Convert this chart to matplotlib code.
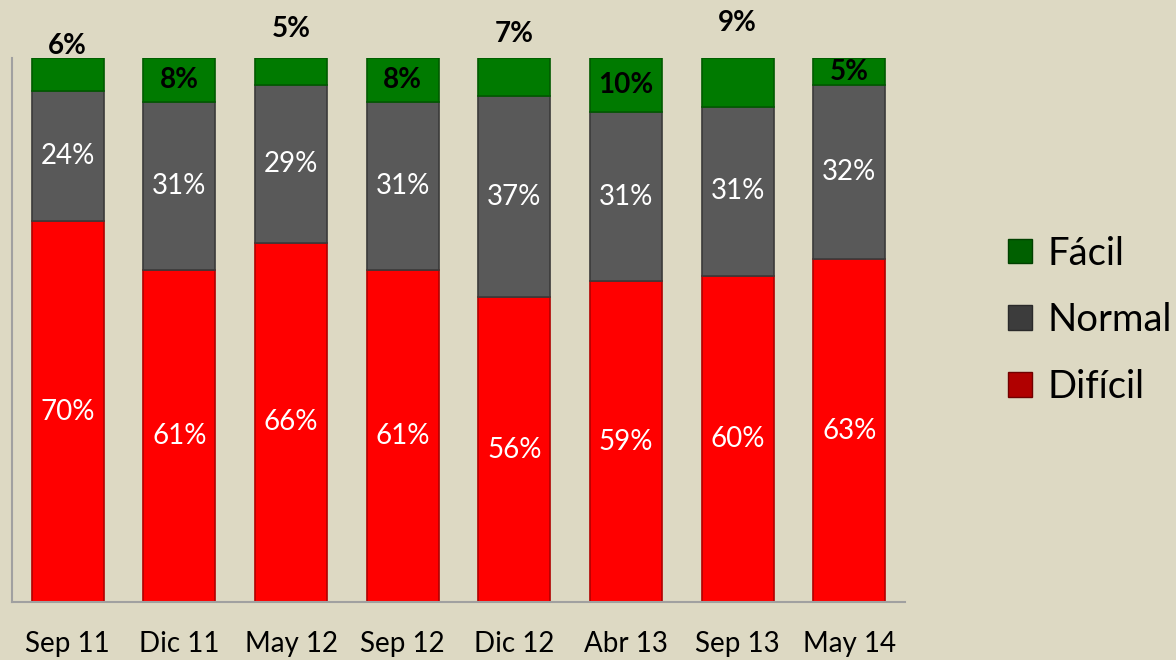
import matplotlib.pyplot as plt
from matplotlib.patches import Patch

plt.rcParams['font.family'] = ['Lato', 'DejaVu Sans']

periods = ['Sep 11', 'Dic 11', 'May 12', 'Sep 12', 'Dic 12', 'Abr 13', 'Sep 13', 'May 14']
dificil = [70, 61, 66, 61, 56, 59, 60, 63]
normal = [24, 31, 29, 31, 37, 31, 31, 32]
facil = [6, 8, 5, 8, 7, 10, 9, 5]

# where the Fácil label sits: inside the bar or above it (extra offset in points)
facil_outside = {0: 9, 2: 21, 4: 17, 6: 25}

bg = '#DDD9C3'
c_red = '#FF0000'
c_gray = '#595959'
c_green = '#007A00'

fig = plt.figure(figsize=(11.76, 6.6), dpi=100, facecolor=bg)
ax = fig.add_axes([0.0102, 0.0879, 0.7594, 0.8242], facecolor=bg)

x = range(len(periods))
w = 0.645
base_n = dificil
base_f = [d + n for d, n in zip(dificil, normal)]

ax.bar(x, dificil, w, color=c_red, edgecolor='#B00000', linewidth=1.2)
ax.bar(x, normal, w, bottom=base_n, color=c_gray, edgecolor='#3A3A3A', linewidth=1.2)
ax.bar(x, facil, w, bottom=base_f, color=c_green, edgecolor='#005A00', linewidth=1.2)

for i in x:
    ax.text(i, dificil[i] / 2, f'{dificil[i]}%', ha='center', va='center',
            color='white', fontsize=20)
    ax.text(i, base_n[i] + normal[i] / 2, f'{normal[i]}%', ha='center', va='center',
            color='white', fontsize=20)
    if i in facil_outside:
        ax.annotate(f'{facil[i]}%', (i, 100), xytext=(0, facil_outside[i]),
                    textcoords='offset points', ha='center', va='center',
                    fontsize=20, fontweight='bold', color='black')
    else:
        ax.text(i, base_f[i] + facil[i] / 2, f'{facil[i]}%', ha='center', va='center',
                fontsize=20, fontweight='bold', color='black')

ax.set_xlim(-0.5, len(periods) - 0.5)
ax.set_ylim(0, 100)
ax.set_xticks(list(x))
ax.set_xticklabels(periods, fontsize=20)
ax.set_yticks([])
ax.tick_params(axis='x', length=0, pad=21)
for s in ['top', 'right']:
    ax.spines[s].set_visible(False)
for s in ['left', 'bottom']:
    ax.spines[s].set_color('#A0A0A0')
    ax.spines[s].set_linewidth(1.5)

handles = [Patch(facecolor='#006000', edgecolor='#004000', label='Fácil'),
           Patch(facecolor='#3C3C3C', edgecolor='#2A2A2A', label='Normal'),
           Patch(facecolor='#B00000', edgecolor='#700000', label='Difícil')]
fig.legend(handles=handles, loc='center left', bbox_to_anchor=(0.857, 0.515),
           frameon=False, fontsize=27.5, handlelength=0.62, handleheight=0.62,
           handletextpad=0.42, labelspacing=0.8, borderpad=0, borderaxespad=0)

fig.savefig('out.png', dpi=100, facecolor=bg)
